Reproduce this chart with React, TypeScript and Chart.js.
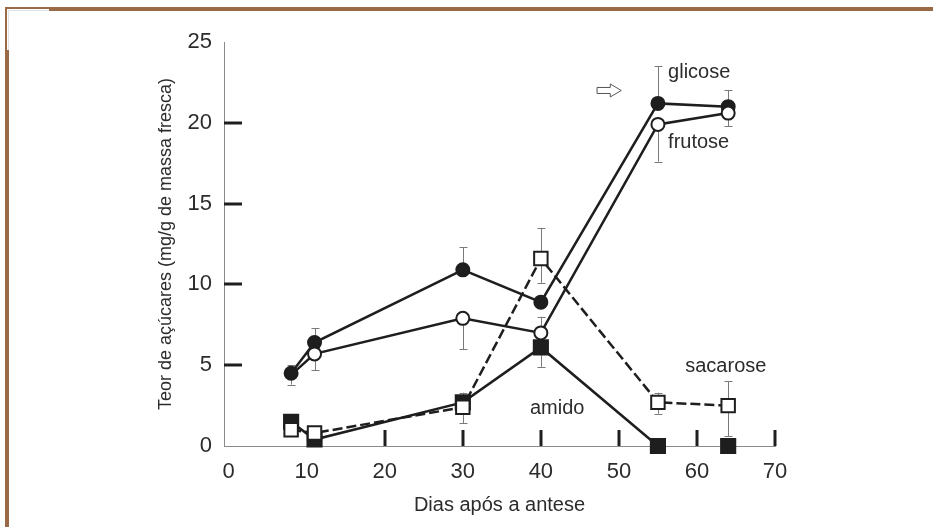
import React, { useEffect, useRef } from "react";
import { Chart, registerables } from "chart.js";

Chart.register(...registerables);

// ---- data ----
const days = [8, 11, 30, 40, 55, 64];
const glicose = [4.5, 6.4, 10.9, 8.9, 21.2, 21.0];
const frutose = [4.4, 5.7, 7.9, 7.0, 19.9, 20.6];
const sacarose = [1.0, 0.8, 2.4, 11.6, 2.7, 2.5];
const amido = [1.5, 0.4, 2.7, 6.1, 0, 0];

// error bars [low, high]
const glicoseErr = [[3.8, 5.0], [6.4, 7.3], [10.9, 12.3], null, [21.2, 23.5], [21.0, 22.0]];
const frutoseErr = [null, [4.7, 5.7], [6.0, 7.9], [7.0, 8.0], [17.6, 19.9], [19.8, 20.6]];
const sacaroseErr = [null, null, [1.4, 3.3], [10.1, 13.5], [2.0, 3.3], [0.6, 4.0]];
const amidoErr = [null, null, null, [4.9, 6.1], null, null];

const xTickLabels = [0, 10, 20, 30, 40, 50, 60, 70];
const xTickMarks = [20, 30, 40, 50, 60, 70];
const yTickLabels = [0, 5, 10, 15, 20, 25];
const yTickMarks = [5, 10, 15, 20];

const xTitle = "Dias após a antese";
const yTitle = "Teor de açúcares (mg/g de massa fresca)";

const seriesNames = ["glicose", "frutose", "sacarose", "amido"];
const nameAnchorsX = [56.3, 56.3, 58.5, 38.6];
const nameAnchorsY = [23.1, 18.8, 4.95, 2.3];
const arrowFrom = [47.2, 22.0];
const arrowTo = [50.3, 22.0];

const INK = "#1e1e1e";
const TEXT = "#2c2c2c";
const FONT = "'Liberation Sans', Arial, Helvetica, sans-serif";

const decorPlugin = {
  id: "decor",
  beforeDraw(chart: any) {
    const ctx = chart.ctx;
    ctx.save();
    ctx.fillStyle = "#ffffff";
    ctx.fillRect(0, 0, chart.width, chart.height);
    // brown frame
    ctx.fillStyle = "#9a6a46";
    ctx.fillRect(49, 7, chart.width - 49, 4);
    ctx.fillRect(5, 7, 44, 2);
    ctx.fillRect(5, 50, 4, chart.height - 50);
    ctx.fillRect(5, 7, 2, 43);
    ctx.strokeStyle = "#e2e2e2";
    ctx.lineWidth = 1;
    ctx.beginPath();
    ctx.moveTo(8.5, 50);
    ctx.lineTo(8.5, 10.5);
    ctx.lineTo(49, 10.5);
    ctx.stroke();
    ctx.restore();
  },
  beforeDatasetsDraw(chart: any) {
    const ctx = chart.ctx;
    const xs = chart.scales.x;
    const ys = chart.scales.y;
    ctx.save();
    // inward tick marks
    ctx.strokeStyle = INK;
    ctx.lineWidth = 3;
    ctx.lineCap = "butt";
    xTickMarks.forEach((v) => {
      const px = Math.round(xs.getPixelForValue(v));
      ctx.beginPath();
      ctx.moveTo(px, ys.bottom);
      ctx.lineTo(px, ys.bottom - 16);
      ctx.stroke();
    });
    yTickMarks.forEach((v) => {
      const py = Math.round(ys.getPixelForValue(v));
      ctx.beginPath();
      ctx.moveTo(xs.left, py);
      ctx.lineTo(xs.left + 18, py);
      ctx.stroke();
    });
    // error bars
    ctx.strokeStyle = "#7a7a7a";
    ctx.lineWidth = 1;
    chart.data.datasets.forEach((ds: any) => {
      (ds.errors || []).forEach((e: any, i: number) => {
        if (!e) return;
        const px = Math.round(xs.getPixelForValue(days[i])) + 0.5;
        const y1 = ys.getPixelForValue(e[0]);
        const y2 = ys.getPixelForValue(e[1]);
        ctx.beginPath();
        ctx.moveTo(px, y1);
        ctx.lineTo(px, y2);
        ctx.moveTo(px - 4, Math.round(y1) + 0.5);
        ctx.lineTo(px + 4, Math.round(y1) + 0.5);
        ctx.moveTo(px - 4, Math.round(y2) + 0.5);
        ctx.lineTo(px + 4, Math.round(y2) + 0.5);
        ctx.stroke();
      });
    });
    ctx.restore();
  },
  afterDatasetsDraw(chart: any) {
    const ctx = chart.ctx;
    const xs = chart.scales.x;
    const ys = chart.scales.y;
    ctx.save();
    ctx.fillStyle = TEXT;
    ctx.font = `20px ${FONT}`;
    ctx.textAlign = "left";
    ctx.textBaseline = "middle";
    seriesNames.forEach((n, i) => {
      ctx.fillText(n, xs.getPixelForValue(nameAnchorsX[i]), ys.getPixelForValue(nameAnchorsY[i]));
    });
    // hollow arrow
    const x0 = xs.getPixelForValue(arrowFrom[0]);
    const x1 = xs.getPixelForValue(arrowTo[0]);
    const yc = ys.getPixelForValue(arrowFrom[1]);
    const headW = 11;
    ctx.strokeStyle = "#555";
    ctx.lineWidth = 1;
    ctx.beginPath();
    ctx.moveTo(x0, yc - 3);
    ctx.lineTo(x1 - headW, yc - 3);
    ctx.lineTo(x1 - headW, yc - 6.5);
    ctx.lineTo(x1, yc);
    ctx.lineTo(x1 - headW, yc + 6.5);
    ctx.lineTo(x1 - headW, yc + 3);
    ctx.lineTo(x0, yc + 3);
    ctx.closePath();
    ctx.stroke();
    ctx.restore();
  },
};

function pts(vals: number[]) {
  return days.map((d, i) => ({ x: d, y: vals[i] }));
}

export default function App() {
  const ref = useRef<HTMLCanvasElement | null>(null);
  useEffect(() => {
    document.body.style.margin = "0";
    const canvas = ref.current!;
    const common = {
      borderColor: INK,
      borderWidth: 2.5,
      pointBorderColor: INK,
      pointBorderWidth: 2,
      pointHoverRadius: 7,
      tension: 0,
      clip: false as any,
      showLine: true,
    };
    const chart = new Chart(canvas, {
      type: "scatter",
      data: {
        datasets: [
          {
            ...common,
            label: "frutose",
            data: pts(frutose),
            errors: frutoseErr,
            pointStyle: "circle",
            // first point lies hidden beneath the glicose marker
            pointRadius: (c: any) => (c.dataIndex === 0 ? 0 : 6.5),
            pointBackgroundColor: "#ffffff",
          } as any,
          {
            ...common,
            label: "glicose",
            data: pts(glicose),
            errors: glicoseErr,
            pointStyle: "circle",
            pointRadius: 6.5,
            pointBackgroundColor: INK,
          } as any,
          {
            ...common,
            label: "sacarose",
            data: pts(sacarose),
            errors: sacaroseErr,
            pointStyle: "rect",
            pointRadius: 9.5,
            pointBackgroundColor: "#ffffff",
            borderDash: [10, 4],
          } as any,
          {
            ...common,
            label: "amido",
            data: pts(amido),
            errors: amidoErr,
            pointStyle: "rect",
            pointRadius: 10,
            pointBackgroundColor: INK,
            segment: {
              borderColor: (c: any) => (c.p0DataIndex === 4 ? "rgba(0,0,0,0)" : INK),
            },
          } as any,
        ],
      },
      options: {
        animation: false,
        responsive: false,
        devicePixelRatio: 1,
        layout: { padding: { left: 155, top: 42, right: 158, bottom: 0 } },
        plugins: { legend: { display: false }, tooltip: { enabled: false } },
        scales: {
          x: {
            type: "linear",
            min: -0.6,
            max: 70,
            afterBuildTicks: (s: any) => {
              s.ticks = xTickLabels.map((v) => ({ value: v }));
            },
            afterFit: (s: any) => {
              s.height = 81;
            },
            grid: { display: false, drawTicks: false },
            border: { display: true, color: "#8a8a8a", width: 1 },
            ticks: {
              color: TEXT,
              font: { family: FONT, size: 22 },
              padding: 13,
              maxRotation: 0,
              autoSkip: false,
            },
            title: {
              display: true,
              text: xTitle,
              color: TEXT,
              font: { family: FONT, size: 20 },
              padding: { top: 0, bottom: 10 },
            },
          },
          y: {
            type: "linear",
            min: 0,
            max: 25,
            afterBuildTicks: (s: any) => {
              s.ticks = yTickLabels.map((v) => ({ value: v }));
            },
            afterFit: (s: any) => {
              s.width = 69;
            },
            grid: { display: false, drawTicks: false },
            border: { display: true, color: "#8a8a8a", width: 1 },
            ticks: {
              color: TEXT,
              font: { family: FONT, size: 22 },
              padding: 12,
            },
            title: {
              display: true,
              text: yTitle,
              color: TEXT,
              font: { family: FONT, size: 18 },
              padding: { top: 0, bottom: 0 },
            },
          },
        },
      },
      plugins: [decorPlugin],
    } as any);
    return () => chart.destroy();
  }, []);
  return (
    <div style={{ position: "fixed", left: 0, top: 0, width: 933, height: 527, background: "#fff" }}>
      <canvas ref={ref} width={933} height={527} style={{ display: "block", width: 933, height: 527 }} />
    </div>
  );
}
